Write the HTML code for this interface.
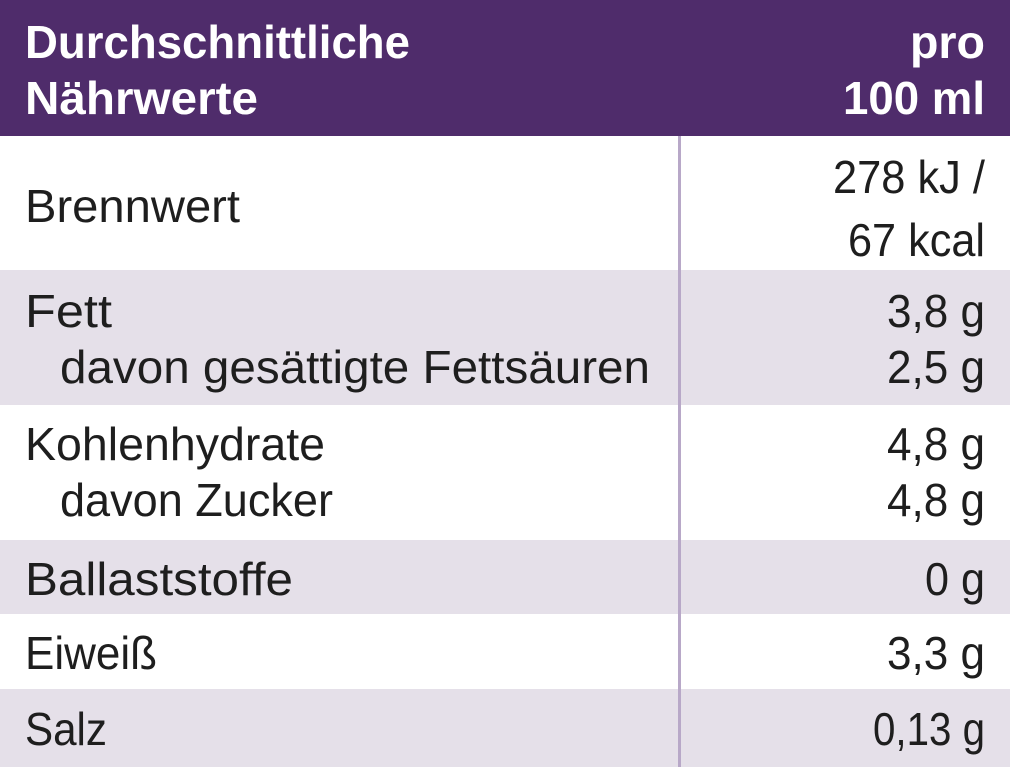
<!DOCTYPE html>
<html><head><meta charset="utf-8"><style>
html,body{margin:0;padding:0;background:#fff}
svg{display:block}
text{font-family:"Liberation Sans",sans-serif;font-size:46px;fill:#1e1e1e}
.h{font-weight:bold;fill:#fff}
</style></head><body>
<svg width="1010" height="767" viewBox="0 0 1010 767">
<rect x="0" y="0" width="1010" height="136" fill="#4f2c6b"/>
<rect x="0" y="136" width="1010" height="134" fill="#ffffff"/>
<rect x="0" y="270" width="1010" height="135" fill="#e5e0e9"/>
<rect x="0" y="405" width="1010" height="135" fill="#ffffff"/>
<rect x="0" y="540" width="1010" height="74" fill="#e5e0e9"/>
<rect x="0" y="614" width="1010" height="75" fill="#ffffff"/>
<rect x="0" y="689" width="1010" height="78" fill="#e5e0e9"/>
<rect x="678" y="136" width="3" height="631" fill="#b8a8c8"/>

<text class="h" x="25" y="58" textLength="385" lengthAdjust="spacingAndGlyphs">Durchschnittliche</text>
<text class="h" x="25" y="114" textLength="233" lengthAdjust="spacingAndGlyphs">Nährwerte</text>
<text class="h" x="910" y="58" textLength="75" lengthAdjust="spacingAndGlyphs">pro</text>
<text class="h" x="843" y="114" textLength="142" lengthAdjust="spacingAndGlyphs">100 ml</text>

<text x="25" y="222" textLength="215" lengthAdjust="spacingAndGlyphs">Brennwert</text>
<text x="833" y="193" textLength="152" lengthAdjust="spacingAndGlyphs">278 kJ /</text>
<text x="848" y="256" textLength="137" lengthAdjust="spacingAndGlyphs">67 kcal</text>

<text x="25" y="327" textLength="87" lengthAdjust="spacingAndGlyphs">Fett</text>
<text x="60" y="383" textLength="590" lengthAdjust="spacingAndGlyphs">davon gesättigte Fettsäuren</text>
<text x="887" y="327" textLength="98" lengthAdjust="spacingAndGlyphs">3,8 g</text>
<text x="887" y="383" textLength="98" lengthAdjust="spacingAndGlyphs">2,5 g</text>

<text x="25" y="460" textLength="300" lengthAdjust="spacingAndGlyphs">Kohlenhydrate</text>
<text x="60" y="516" textLength="273" lengthAdjust="spacingAndGlyphs">davon Zucker</text>
<text x="887" y="460" textLength="98" lengthAdjust="spacingAndGlyphs">4,8 g</text>
<text x="887" y="516" textLength="98" lengthAdjust="spacingAndGlyphs">4,8 g</text>

<text x="25" y="595" textLength="268" lengthAdjust="spacingAndGlyphs">Ballaststoffe</text>
<text x="925" y="595" textLength="60" lengthAdjust="spacingAndGlyphs">0 g</text>

<text x="25" y="669" textLength="132" lengthAdjust="spacingAndGlyphs">Eiweiß</text>
<text x="887" y="669" textLength="98" lengthAdjust="spacingAndGlyphs">3,3 g</text>

<text x="25" y="745" textLength="82" lengthAdjust="spacingAndGlyphs">Salz</text>
<text x="873" y="745" textLength="112" lengthAdjust="spacingAndGlyphs">0,13 g</text>
</svg>
</body></html>
